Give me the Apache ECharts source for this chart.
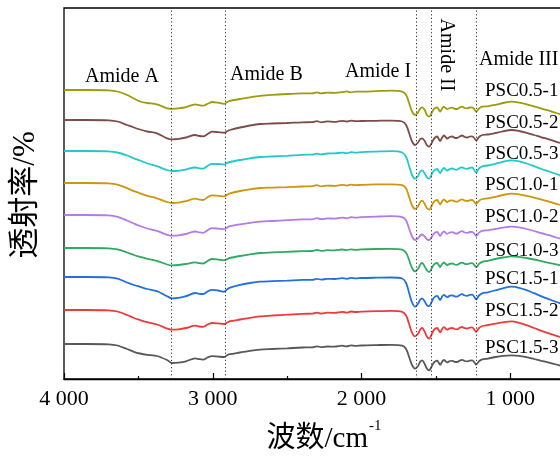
<!DOCTYPE html>
<html>
<head>
<meta charset="utf-8">
<script src="https://cdn.jsdelivr.net/npm/echarts@6/dist/echarts.min.js"></script>
<style>
  html, body { margin: 0; padding: 0; background: #fff; }
  #chart { width: 560px; height: 456px; }
</style>
</head>
<body>
<div id="chart"></div>
<script>
// Wavenumber sampling points (cm-1), high to low
const wavenumbers = [4000, 3850, 3700, 3640, 3576, 3530, 3489, 3440, 3375, 3307,
  3274, 3230, 3180, 3119, 3090, 3065, 3030, 3005, 2964, 2924,
  2900, 2884, 2816, 2750, 2682, 2600, 2500, 2400, 2330, 2300,
  2270, 2230, 2180, 2130, 2100, 2070, 2040, 2000, 1900, 1800,
  1727, 1700, 1680, 1660, 1640, 1620, 1605, 1592, 1575, 1560,
  1545, 1530, 1518, 1505, 1491, 1481, 1471, 1458, 1446, 1435,
  1424, 1407, 1390, 1373, 1357, 1340, 1323, 1306, 1289, 1272,
  1256, 1240, 1229, 1210, 1188, 1150, 1100, 1050, 990, 940,
  890, 840, 790, 740, 690, 640];

// Transmittance (%) of each sample at the wavenumbers above
const psc05_1 = [100, 100, 99.7, 98.5, 95, 91.5, 88.5, 87, 85.7, 81.7,
  81.2, 81.6, 82.8, 85.7, 84.8, 84.3, 86.5, 88, 87.3, 86.2,
  88.2, 89.2, 91, 92.7, 94.2, 95.2, 96, 96.6, 96.7, 97.7,
  96.6, 97.4, 97.1, 97.8, 98.7, 97.6, 98.4, 98.4, 98.9, 99.3,
  98.3, 95, 87, 78.5, 75, 77.5, 81.5, 82.7, 80, 75,
  73.3, 76.5, 80, 82, 82.7, 80.5, 78.3, 81.5, 83.3, 82,
  80.7, 82, 82.3, 81.2, 81, 82.5, 83.3, 82, 81.7, 82.5,
  82.7, 80.5, 78.3, 81.5, 83.3, 83.7, 85.2, 87, 88.3, 87.4,
  85.7, 83.7, 81.4, 79.4, 77, 75];
const psc05_2 = [100, 100, 99.7, 98.5, 95, 92.5, 90.5, 88.5, 86.7, 81.7,
  80.7, 81.2, 82.5, 85, 84, 83.6, 86.5, 88.3, 87.8, 87.3,
  89, 90, 92.5, 94.5, 96, 96.5, 97, 97.7, 97.8, 98.8,
  97.7, 98.6, 98.1, 99.2, 98.5, 99.4, 98.8, 99, 99.2, 99.4,
  98.5, 95, 87, 78.5, 75, 77.5, 80.8, 81.7, 79, 74.7,
  73.3, 76.5, 80, 82.5, 83.5, 81, 79, 82.5, 84.5, 83,
  81.5, 83, 83.5, 82.2, 82, 83.5, 84.5, 83, 82.5, 83.5,
  83.7, 81.5, 79.5, 83, 85, 85.5, 87, 88.7, 90, 89,
  87.2, 85, 82.7, 80.7, 78.2, 76];
const psc05_3 = [100, 100, 99.7, 98.5, 95.5, 92.7, 90.5, 87.5, 84.8, 81,
  80, 80.2, 81.5, 83.5, 82.7, 82.4, 85.5, 87.2, 87, 86.5,
  88.2, 89, 91, 92.7, 94, 94.5, 95.2, 96.2, 96.4, 97.4,
  96.5, 97.5, 97.6, 98.4, 97.7, 98.8, 98.4, 98.9, 99.4, 99.8,
  98.5, 94, 85, 76, 72.3, 75, 79.5, 80.7, 77.5, 73.5,
  72.3, 76, 79.5, 81.2, 82, 79.7, 78, 81.2, 83, 81.7,
  80.5, 82, 82.5, 81.5, 81.3, 83, 83.7, 82.5, 82.2, 83.2,
  83.5, 80.5, 78.5, 82.5, 84.7, 85.5, 87.2, 89.2, 90.7, 89.7,
  87.5, 84.8, 82, 79.5, 77, 74.5];
const psc10_1 = [100, 100, 99.7, 98.4, 94.8, 91.8, 89.7, 87.2, 84.7, 81,
  80, 80.4, 81.8, 84.3, 83.4, 83, 86.2, 87.6, 87.2, 86.6,
  88.5, 89.7, 92, 93.7, 95, 95.4, 95.8, 96.5, 96.8, 97.8,
  96.7, 97.4, 97.1, 98.2, 97.5, 98.4, 97.8, 98.2, 98.6, 98.7,
  97.8, 94.5, 86, 77.5, 74, 76.5, 81, 82.3, 79, 74.7,
  73.3, 76.7, 80.2, 82.2, 83, 80.7, 78.7, 81.8, 83.5, 82.2,
  81, 82.4, 82.7, 81.6, 81.3, 82.8, 83.6, 82.4, 82, 82.8,
  83, 80.8, 79, 82.2, 84, 84.6, 86.2, 88, 89.3, 88.7,
  87.2, 85.4, 83.3, 81.4, 79.2, 77];
const psc10_2 = [100, 100, 99.6, 98.2, 94.5, 91.5, 89, 86.5, 84.2, 80.2,
  79.3, 79.6, 81, 83.5, 82.6, 82.2, 85.2, 86.8, 86.4, 85.8,
  87.8, 88.8, 90.7, 92.2, 93.3, 94, 94.8, 95.6, 95.7, 96.8,
  95.8, 96.6, 96.4, 97.4, 96.7, 97.8, 97.4, 97.8, 98.4, 98.8,
  97.8, 94.5, 86.5, 78.5, 75, 76.7, 79.5, 80.5, 78.5, 75.7,
  75, 77.5, 80.5, 82.4, 83.2, 81, 79, 82, 83.7, 82.4,
  81.2, 82.5, 82.8, 81.7, 81.5, 83, 83.8, 82.5, 82.2, 83,
  83.2, 81, 79, 82.4, 84.2, 84.7, 86, 87.3, 88.3, 87.6,
  86, 84, 81.8, 79.8, 77.5, 75.4];
const psc10_3 = [100, 100, 99.7, 98.6, 95.5, 93, 91.2, 89.2, 87.2, 83.5,
  82.6, 83, 84, 85.6, 84.8, 84.5, 87.5, 89, 88.4, 87.6,
  89.2, 90, 92, 93.7, 95, 95.6, 96.2, 96.8, 97, 98,
  97.1, 97.8, 97.6, 98.5, 97.8, 98.7, 98.2, 98.6, 99, 99.2,
  98.4, 95.2, 88, 80, 76.6, 79, 83.5, 85, 81.5, 77.5,
  76, 79, 82.4, 84.4, 85, 83, 81, 84, 85.5, 84.2,
  83, 84.2, 84.5, 83.5, 83.2, 84.7, 85.4, 84.2, 83.8, 84.6,
  84.8, 82.6, 80.8, 84.2, 86.2, 87.2, 89, 90.5, 91.6, 91.2,
  90, 88.5, 86.8, 85.2, 83.6, 82];
const psc15_1 = [100, 100, 99.7, 98.4, 94.5, 92, 90.2, 88, 85.8, 80.7,
  78.7, 79.2, 80.8, 84, 83.2, 83, 86, 87.2, 86.5, 85.3,
  88, 89.3, 92.2, 94, 95.3, 95.8, 96.4, 97.1, 97.2, 98.2,
  97.3, 98.2, 98, 98.9, 98.2, 99.1, 98.6, 99, 99.3, 99.5,
  98.5, 94, 84, 74.5, 70.3, 73.2, 77.5, 78.7, 75.5, 71.7,
  71, 74.5, 78.2, 80.4, 81.2, 79, 77, 80.4, 82.2, 81,
  79.8, 81.3, 81.7, 80.7, 80.4, 82, 82.8, 81.5, 81.2, 82.2,
  82.4, 79.7, 77.5, 81.5, 83.7, 84.7, 86.6, 88.7, 90.3, 89.2,
  86.8, 83.8, 80.7, 77.8, 75, 72.5];
const psc15_2 = [100, 100, 99.7, 98.5, 95, 92, 90, 87.8, 85.5, 81.5,
  80.3, 80.7, 82, 84.3, 83.5, 83.2, 85.8, 87, 86.6, 86,
  87.8, 88.8, 90.5, 92.2, 93.6, 94.5, 95.3, 96.2, 96.4, 97.4,
  96.4, 97.3, 97.1, 98.1, 97.4, 98.5, 98, 98.4, 98.9, 99.2,
  98.2, 94.5, 86, 77.2, 73.6, 76.2, 80.6, 82, 78.2, 73.2,
  71.3, 75, 79, 81.2, 82, 79.8, 77.7, 81, 82.8, 81.5,
  80.3, 81.7, 82, 81, 80.7, 82.2, 83, 81.8, 81.5, 82.4,
  82.6, 80.2, 78.2, 82, 84, 85, 86.4, 87.7, 88.6, 87.2,
  84.8, 82, 79.2, 76.7, 74.2, 72];
const psc15_3 = [100, 100, 99.7, 98.5, 95, 92.2, 90.5, 89.2, 88, 84,
  81, 81.4, 82.7, 85.7, 84.8, 84.4, 86.8, 87.8, 87.4, 87,
  89, 89.8, 91.5, 93.2, 94.4, 95, 95.7, 96.5, 96.7, 97.7,
  96.8, 97.5, 97.3, 98.3, 97.6, 98.6, 98.1, 98.5, 98.9, 99.2,
  98.4, 95, 87, 78.8, 75.4, 78, 82.4, 83.7, 80, 75.2,
  73.7, 77, 80.5, 82.6, 83.4, 81.2, 79.2, 82.4, 84, 82.8,
  81.6, 83, 83.2, 82.2, 82, 83.4, 84.1, 83, 82.6, 83.4,
  83.6, 81.4, 79.4, 82.8, 84.7, 85.4, 87, 88.2, 88.7, 88.2,
  86.8, 85, 83.2, 81.4, 79.5, 77.5];

const sampleNames = ['PSC0.5-1', 'PSC0.5-2', 'PSC0.5-3', 'PSC1.0-1', 'PSC1.0-2',
  'PSC1.0-3', 'PSC1.5-1', 'PSC1.5-2', 'PSC1.5-3'];
const sampleSpectra = [psc05_1, psc05_2, psc05_3, psc10_1, psc10_2,
  psc10_3, psc15_1, psc15_2, psc15_3];
// Vertical display offsets used to stack the spectra
const stackOffsets = [189, 159, 128, 96, 64, 31, 2, -31, -65];

// Characteristic amide bands (cm-1)
const bandNames = ['Amide A', 'Amide B', 'Amide I', 'Amide II', 'Amide III'];
const bandPositions = [3280, 2917, 1635, 1534, 1229];

const tickValues = [4000, 3000, 2000, 1000];
const tickLabels = ['4 000', '3 000', '2 000', '1 000'];

const lineColors = ['#9c9c0c', '#7e4c48', '#22c8cc', '#cc960e', '#b47ae6',
  '#2eaa62', '#2070e0', '#ee3a3a', '#585858'];

const serif = "'Liberation Serif', 'Noto Sans CJK SC', serif";

const chart = echarts.init(document.getElementById('chart'), null, { renderer: 'canvas' });

const series = sampleSpectra.map((vals, k) => ({
  name: sampleNames[k],
  type: 'line',
  showSymbol: false,
  symbol: 'none',
  smooth: 0.3,
  clip: true,
  z: 3,
  lineStyle: { color: lineColors[k], width: 1.8 },
  data: wavenumbers.map((w, i) => [w, vals[i] + stackOffsets[k]])
}));

// dotted guides at the amide band positions
series.push({
  type: 'line',
  data: [],
  z: 2,
  markLine: {
    silent: true,
    symbol: ['none', 'none'],
    label: { show: false },
    lineStyle: { color: '#333', width: 1, type: [1.2, 2.4] },
    data: bandPositions.map(v => ({ xAxis: v }))
  }
});

// label placement (pixels)
const bandLabelPos = [
  { x: 85, y: 77, rot: 0 },
  { x: 230, y: 75, rot: 0 },
  { x: 345, y: 72, rot: 0 },
  { x: 446, y: 55, rot: -Math.PI / 2 },
  { x: 479, y: 60, rot: 0 }
];
const sampleLabelY = [91, 123, 154, 185.5, 217.5, 251, 279.5, 311.5, 348.5];

const graphics = [];
bandNames.forEach((name, i) => {
  const p = bandLabelPos[i];
  graphics.push({
    type: 'text',
    x: p.x, y: p.y, rotation: p.rot, z: 10,
    style: {
      text: name, fill: '#000',
      font: '20px ' + serif,
      textAlign: p.rot ? 'center' : 'left',
      textVerticalAlign: 'middle'
    }
  });
});
sampleNames.forEach((name, i) => {
  graphics.push({
    type: 'text',
    x: 485, y: sampleLabelY[i], z: 10,
    style: {
      text: name, fill: '#000',
      font: '19px ' + serif,
      textAlign: 'left', textVerticalAlign: 'middle'
    }
  });
});
// axis titles
graphics.push({
  type: 'text', x: 26, y: 195, rotation: Math.PI / 2, z: 10,
  style: { text: '透射率/%', fill: '#000', font: '31px ' + serif,
    textAlign: 'center', textVerticalAlign: 'middle' }
});
graphics.push({
  type: 'text', x: 368, y: 439, z: 10,
  style: { text: '波数/cm', fill: '#000', font: '29px ' + serif,
    textAlign: 'right', textVerticalAlign: 'middle' }
});
graphics.push({
  type: 'text', x: 369, y: 426, z: 10,
  style: { text: '-1', fill: '#000', font: '15px ' + serif,
    textAlign: 'left', textVerticalAlign: 'middle' }
});

chart.setOption({
  animation: false,
  backgroundColor: '#fff',
  grid: {
    left: 64, top: 8, width: 595, height: 371,
    containLabel: false,
    outerBoundsMode: 'none',
    show: true, borderColor: '#000', borderWidth: 1.3
  },
  xAxis: {
    type: 'value',
    min: 0, max: 4000, interval: 1000,
    inverse: true,
    axisLine: { show: true, lineStyle: { color: '#000', width: 1.3 } },
    axisTick: { show: true, inside: true, length: 6, lineStyle: { color: '#000', width: 1.2 } },
    minorTick: { show: true, splitNumber: 2, length: 3, lineStyle: { color: '#000', width: 1.2 } },
    splitLine: { show: false },
    axisLabel: {
      margin: 9,
      color: '#000',
      fontFamily: serif,
      fontSize: 22,
      formatter: v => {
        const k = tickValues.indexOf(v);
        return k >= 0 ? tickLabels[k] : '';
      }
    }
  },
  yAxis: {
    type: 'value',
    min: 0, max: 371,
    axisLine: { show: true, lineStyle: { color: '#000', width: 1.3 } },
    axisTick: { show: false },
    axisLabel: { show: false },
    splitLine: { show: false }
  },
  graphic: graphics,
  series: series
});
</script>
</body>
</html>
